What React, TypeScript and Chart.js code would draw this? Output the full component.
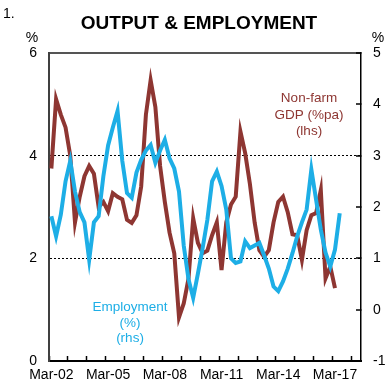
import React, { useEffect, useRef } from "react";
import { Chart, registerables } from "chart.js";

Chart.register(...registerables);

const years = [2002, 2003, 2004, 2005, 2006, 2007, 2008, 2009, 2010, 2011, 2012, 2013, 2014, 2015, 2016, 2017, 2018];
const quarterMonths = ["Mar", "Jun", "Sep", "Dec"];
const categoryCount = 66;

// Non-farm GDP (%pa), left axis, Mar-02 .. Mar-17
const gdp = [
  3.75, 5.1, 4.8, 4.55, 4.0, 2.7, 3.2, 3.6, 3.8, 3.65,
  3.0, 3.1, 2.92, 3.27, 3.2, 3.15, 2.75, 2.69, 2.84, 3.4,
  4.8, 5.47, 4.95, 3.8, 3.1, 2.5, 2.1, 0.85, 1.12, 1.6,
  2.78, 2.3, 2.1, 2.15, 2.45, 2.7, 1.77, 2.7, 3.05, 3.2,
  4.47, 4.05, 3.45, 2.7, 2.16, 2.03, 2.16, 2.7, 3.1, 3.2,
  2.9, 2.47, 2.45, 1.97, 2.55, 2.84, 2.88, 3.33, 1.61, 1.84,
  1.42,
];

// Employment (%), right axis, Mar-02 .. Jun-17
const employment = [
  1.82, 1.43, 1.85, 2.5, 2.9, 2.3, 1.9, 1.7, 0.97, 1.7,
  1.82, 2.6, 3.2, 3.55, 3.87, 2.9, 2.27, 2.18, 2.67, 2.92,
  3.1, 3.21, 2.86, 3.1, 3.31, 2.95, 2.75, 2.3, 1.25, 0.6,
  0.23, 0.7, 1.2, 1.75, 2.5, 2.69, 2.41, 1.95, 1.0, 0.91,
  0.94, 1.33, 1.2, 1.25, 1.3, 1.06, 0.8, 0.45, 0.36, 0.55,
  0.8, 1.1, 1.43, 1.7, 1.95, 2.73, 2.14, 1.56, 1.11, 0.84,
  1.17, 1.88,
];

const leftTicks = { min: 0, max: 6, step: 2 };
const rightTicks = { min: -1, max: 5, step: 1 };

const labels: string[] = [];
years.forEach((y) =>
  quarterMonths.forEach((m) => labels.push(`${m}-${String(y).slice(2)}`))
);
const categories = labels.slice(0, categoryCount);

const BROWN = "#8E3632";
const BLUE = "#1DAEE6";
const FONT = '"Liberation Sans", Arial, sans-serif';

const textPlugin = {
  id: "texts",
  afterDraw(chart: any) {
    const ctx = chart.ctx;
    ctx.save();
    ctx.textBaseline = "middle";
    ctx.fillStyle = "#000";
    ctx.textAlign = "left";
    ctx.font = `14px ${FONT}`;
    ctx.fillText("1.", 3, 14);
    ctx.textAlign = "center";
    ctx.font = `bold 19px ${FONT}`;
    ctx.fillText("OUTPUT & EMPLOYMENT", 199, 24);
    ctx.font = `14px ${FONT}`;
    ctx.fillText("%", 32, 38);
    ctx.fillText("%", 378, 38);

    ctx.font = `13.5px ${FONT}`;
    ctx.fillStyle = BROWN;
    ctx.fillText("Non-farm", 309, 98);
    ctx.fillText("GDP (%pa)", 309, 115);
    ctx.fillText("(lhs)", 309, 131);

    ctx.fillStyle = BLUE;
    ctx.fillText("Employment", 130, 307);
    ctx.fillText("(%)", 130, 323);
    ctx.fillText("(rhs)", 130, 338);
    ctx.restore();
  },
};

export default function App() {
  const ref = useRef<HTMLCanvasElement>(null);

  useEffect(() => {
    if (!ref.current) return;
    const chart = new Chart(ref.current, {
      type: "line",
      data: {
        labels: categories,
        datasets: [
          {
            label: "Non-farm GDP (%pa) (lhs)",
            data: gdp,
            yAxisID: "yL",
            borderColor: BROWN,
            borderWidth: 4,
            pointRadius: 0,
            tension: 0,
            order: 2,
          },
          {
            label: "Employment (%) (rhs)",
            data: employment,
            yAxisID: "yR",
            borderColor: BLUE,
            borderWidth: 4,
            pointRadius: 0,
            tension: 0,
            order: 1,
          },
        ],
      },
      options: {
        responsive: false,
        animation: false,
        layout: { padding: { top: 53, left: 0, right: 0, bottom: 0 } },
        plugins: {
          legend: { display: false },
          tooltip: { enabled: false },
          title: { display: false },
        },
        scales: {
          x: {
            type: "category",
            offset: true,
            grid: {
              offset: true,
              drawOnChartArea: false,
              drawTicks: true,
              tickLength: -5,
              tickWidth: 1.5,
              tickColor: (c: any) => (c.index % 4 === 0 ? "#000" : "transparent"),
            },
            border: { display: true, color: "#000", width: 2 },
            ticks: {
              autoSkip: false,
              maxRotation: 0,
              minRotation: 0,
              padding: 11,
              color: "#000",
              font: { family: FONT, size: 14 },
              callback: (_v: any, i: number) => (i % 12 === 0 ? categories[i] : ""),
            },
            afterFit: (s: any) => {
              s.height = 23;
              s.paddingLeft = 0;
              s.paddingRight = 0;
            },
          },
          yL: {
            position: "left",
            min: leftTicks.min,
            max: leftTicks.max,
            ticks: {
              stepSize: leftTicks.step,
              padding: 12,
              color: "#000",
              font: { family: FONT, size: 14 },
            },
            grid: {
              drawTicks: false,
              lineWidth: 1,
              color: (c: any) =>
                c.tick && (c.tick.value === 2 || c.tick.value === 4) ? "#000" : "transparent",
            },
            border: { display: true, color: "#404040", width: 2, dash: [2, 2] },
            afterFit: (s: any) => {
              s.width = 49;
              s.paddingTop = 0;
              s.paddingBottom = 0;
            },
          },
          yR: {
            position: "right",
            min: rightTicks.min,
            max: rightTicks.max,
            ticks: {
              stepSize: rightTicks.step,
              padding: 17,
              color: "#000",
              font: { family: FONT, size: 14 },
            },
            grid: {
              drawOnChartArea: true,
              drawTicks: true,
              tickLength: -5,
              tickWidth: 1.5,
              tickColor: "#000",
              lineWidth: 2,
              color: (c: any) => (c.tick && c.tick.value === 5 ? "#555" : "transparent"),
            },
            border: { display: true, color: "#000", width: 1.5 },
            afterFit: (s: any) => {
              s.width = 30;
              s.paddingTop = 0;
              s.paddingBottom = 0;
            },
          },
        },
      },
      plugins: [textPlugin],
    } as any);
    return () => chart.destroy();
  }, []);

  return (
    <div style={{ position: "fixed", left: 0, top: 0, width: 391, height: 384, background: "#fff" }}>
      <canvas ref={ref} width={391} height={384} style={{ width: 391, height: 384, display: "block" }} />
    </div>
  );
}
